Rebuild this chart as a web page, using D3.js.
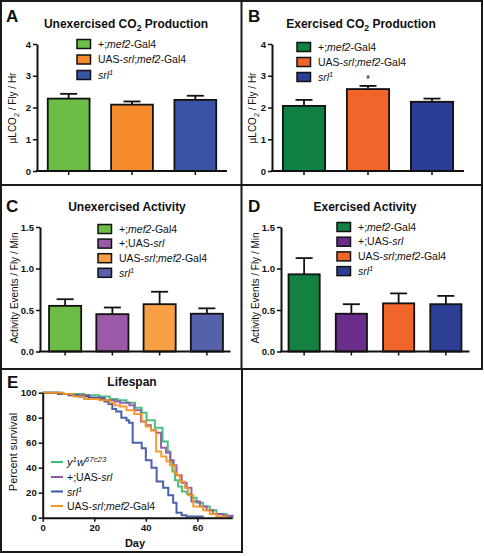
<!DOCTYPE html>
<html><head><meta charset="utf-8">
<script src="https://cdn.jsdelivr.net/npm/d3@7"></script>
<style>body{margin:0;background:#fff}svg{display:block;font-family:"Liberation Sans",Arial,Helvetica,sans-serif}</style>
</head><body><svg id="c" width="484" height="556"></svg>
<script>
// ---- data ----
const co2Genotypes = ["+;<i>mef2</i>-Gal4", "UAS-<i>srl</i>;<i>mef2</i>-Gal4", "<i>srl</i><sup>1</sup>"];
const unexCO2 = [2.28, 2.09, 2.24];
const unexCO2Err = [0.15, 0.10, 0.13];
const exCO2 = [2.05, 2.58, 2.18];
const exCO2Err = [0.19, 0.10, 0.10];
const co2Ticks = [0, 1, 2, 3, 4];

const actGenotypes = ["+;<i>mef2</i>-Gal4", "+;UAS-<i>srl</i>", "UAS-<i>srl</i>;<i>mef2</i>-Gal4", "<i>srl</i><sup>1</sup>"];
const unexAct = [0.55, 0.45, 0.57, 0.455];
const unexActErr = [0.08, 0.08, 0.15, 0.065];
const exAct = [0.93, 0.455, 0.58, 0.57];
const exActErr = [0.195, 0.115, 0.12, 0.10];
const actTicks = [0, 0.5, 1.0, 1.5];

const lifeSeries = ["<i>y</i><sup>1</sup><i>w</i><sup>67c23</sup>", "+;UAS-<i>srl</i>", "<i>srl</i><sup>1</sup>", "UAS-<i>srl</i>;<i>mef2</i>-Gal4"];
const survGreen = [[0,100],[8,99],[16,98],[22,97],[26,95],[29,94],[32.5,92],[35.8,88],[38.4,84],[40.3,78],[43.5,72],[46.5,61],[48.5,53],[49.5,45],[50.3,37],[51.3,30],[52.5,25],[54,21],[56,19],[57.7,16],[59.7,12],[62.2,9],[64.8,6],[67.4,3],[71.3,1],[73.5,1]];
const survPurple = [[0,100],[6,99],[12,98],[18,96],[24,94],[28,93],[30,92],[33.6,90],[35.5,86],[38.1,77],[40,74],[42,70],[43.9,68],[45.9,56],[47.8,52],[49.5,46],[50.8,42],[51.9,34],[53.9,28],[55.8,24],[57.7,13],[61,9],[63.6,6],[66.1,3],[70,1.5],[73.7,0]];
const survBlue = [[0,100],[6,99],[10,98],[14,97],[18,96],[22,95],[24,93],[25.5,91],[27,87],[28.5,85],[30.5,80],[32.5,78],[33.5,76],[34.9,60],[38.4,55.5],[40,46],[42.2,40],[44.2,29],[46.7,24],[48.7,18],[50.6,12],[51.9,4],[53.9,2],[55.8,1],[62,0]];
const survOrange = [[0,100],[8,99],[12,97],[16,95],[22,94],[26,92],[28,90],[30,89],[32.5,86],[35.5,83],[38.4,77],[40,73],[42,70],[44,53],[46,49],[48,45],[49.4,42],[51.2,36],[51.9,34],[53.2,29],[55.1,24],[56.4,18],[58.4,9],[62.2,6],[64.8,3],[67.4,1],[71.3,0]];
const lifeXTicks = [0, 20, 40, 60];
const lifeYTicks = [0, 20, 40, 60, 80, 100];

// ---- helpers ----
const svg = d3.select("#c");
svg.append("rect").attr("width",484).attr("height",556).attr("fill","#fff");

function rich(t, markup) {
  const re = /<(i|sup|sub)>(.*?)<\/\1>|([^<]+)/g;
  let m, shift = 0;
  while ((m = re.exec(markup))) {
    const tag = m[1], str = tag ? m[2] : m[3];
    const ts = t.append("tspan").text(str);
    let target = 0;
    if (tag === "i") ts.attr("font-style","italic");
    if (tag === "sup") { target = -4; ts.attr("font-size","0.72em").attr("font-style","italic"); }
    if (tag === "sub") { target = 3; ts.attr("font-size","0.72em"); }
    if (target !== shift) { ts.attr("dy", target - shift); shift = target; }
  }
  return t;
}

function text(x, y, markup, opts = {}) {
  const t = svg.append("text").attr("x", x).attr("y", y)
    .attr("font-size", opts.size || 10)
    .attr("font-weight", opts.weight || "normal")
    .attr("text-anchor", opts.anchor || "start")
    .attr("fill", "#111");
  if (opts.rotate) t.attr("transform", `rotate(-90)`).attr("x", -y).attr("y", x);
  return rich(t, markup);
}

function barPanel(p) {
  const y = d3.scaleLinear().domain([p.ticks[0], p.ticks[p.ticks.length-1]]).range(p.yRange);
  const x = d3.scaleBand().domain(d3.range(p.values.length)).range(p.xRange)
    .paddingInner(p.pad).paddingOuter(p.pad / 2);
  const g = svg.append("g");
  p.values.forEach((v, i) => {
    const cx = x(i) + x.bandwidth() / 2;
    g.append("line").attr("x1", cx).attr("x2", cx).attr("y1", y(v)).attr("y2", y(v + p.errs[i]))
      .attr("stroke", "#111").attr("stroke-width", 1.8);
    g.append("line").attr("x1", cx - 8.5).attr("x2", cx + 8.5).attr("y1", y(v + p.errs[i])).attr("y2", y(v + p.errs[i]))
      .attr("stroke", "#111").attr("stroke-width", 1.8);
  });
  g.selectAll("rect.bar").data(p.values).join("rect").attr("class","bar")
    .attr("x", (d, i) => x(i)).attr("width", x.bandwidth())
    .attr("y", d => y(d)).attr("height", d => y(0) - y(d))
    .attr("fill", (d, i) => p.colors[i]).attr("stroke", "#111").attr("stroke-width", 1.8);
  const ya = g.append("g").attr("transform", `translate(${p.axisX},0)`)
    .call(d3.axisLeft(y).tickValues(p.ticks).tickSize(4).tickSizeOuter(0).tickPadding(2).tickFormat(p.fmt));
  ya.select(".domain").attr("stroke", "#111").attr("stroke-width", 2);
  ya.selectAll(".tick line").attr("stroke", "#111").attr("stroke-width", 1.5);
  ya.selectAll(".tick text").attr("font-size", 9.5).attr("font-weight", "bold").attr("fill", "#111")
    .attr("font-family", '"Liberation Sans",Arial,sans-serif');
  const xa = g.append("g").attr("transform", `translate(0,${y(0)})`)
    .call(d3.axisBottom(x).tickSize(4).tickSizeOuter(0).tickFormat(""));
  xa.select(".domain").remove();
  xa.selectAll(".tick line").attr("stroke", "#111").attr("stroke-width", 1.5);
  g.append("line").attr("x1", p.axisX - 1).attr("x2", p.xRange[1]).attr("y1", y(0)).attr("y2", y(0))
    .attr("stroke", "#111").attr("stroke-width", 2);
  p.labels.forEach((lab, i) => {
    const cy = p.legY + i * p.legStep;
    svg.append("rect").attr("x", p.legX).attr("y", cy - 4.5).attr("width", 13.5).attr("height", 9)
      .attr("fill", p.colors[i]).attr("stroke", "#111").attr("stroke-width", 1.5);
    text(p.legX + 21, cy + 3.7, lab, { size: 10.5 });
  });
  return { x, y };
}

// ---- frames ----
const frame = svg.append("g").attr("stroke", "#1a1a1a").attr("stroke-width", 2).attr("fill", "none");
frame.append("path").attr("d", "M1,369 L1,1 L482,1 L482,369 L1,369 M241.5,1 L241.5,369 M1,185 L482,185");
frame.append("path").attr("d", "M1,369 L1,552 L242,552 L242,369");

// ---- panel A ----
text(6, 22, "A", { size: 17, weight: "bold" });
text(126, 28, "Unexercised CO<sub>2</sub> Production", { size: 12, weight: "bold", anchor: "middle" });
text(16, 108, "µLCO<sub>2</sub> / Fly / Hr", { size: 10, anchor: "middle", rotate: true });
barPanel({ values: unexCO2, errs: unexCO2Err, ticks: co2Ticks, fmt: d3.format("d"),
  yRange: [171, 44], xRange: [37, 227], axisX: 37, pad: 0.34,
  colors: ["#6cbd45", "#f68b2c", "#3954a4"], labels: co2Genotypes, legX: 77, legY: 44, legStep: 15.5 });

// ---- panel B ----
text(248, 22, "B", { size: 17, weight: "bold" });
text(361, 28, "Exercised CO<sub>2</sub> Production", { size: 12, weight: "bold", anchor: "middle" });
text(256, 108, "µLCO<sub>2</sub> / Fly / Hr", { size: 10, anchor: "middle", rotate: true });
const pb = barPanel({ values: exCO2, errs: exCO2Err, ticks: co2Ticks, fmt: d3.format("d"),
  yRange: [171, 44], xRange: [272, 464], axisX: 272, pad: 0.34,
  colors: ["#108142", "#f0652a", "#2a3e96"], labels: co2Genotypes, legX: 297, legY: 47, legStep: 15 });
text(pb.x(1) + pb.x.bandwidth() / 2, 83, "*", { size: 10, anchor: "middle" });

// ---- panel C ----
text(6, 212, "C", { size: 17, weight: "bold" });
text(127, 211, "Unexercised Activity", { size: 12, weight: "bold", anchor: "middle" });
text(18, 288, "Activity Events / Fly / Min", { size: 10, anchor: "middle", rotate: true });
barPanel({ values: unexAct, errs: unexActErr, ticks: actTicks, fmt: d3.format(".1f"),
  yRange: [351.5, 227], xRange: [41.5, 230.5], axisX: 40, pad: 0.32,
  colors: ["#6cbd45", "#9b5aa7", "#f8a045", "#5561ab"], labels: actGenotypes, legX: 98, legY: 229, legStep: 14.6 });

// ---- panel D ----
text(248, 212, "D", { size: 17, weight: "bold" });
text(365, 211, "Exercised Activity", { size: 12, weight: "bold", anchor: "middle" });
text(259, 288, "Activity Events / Fly / Min", { size: 10, anchor: "middle", rotate: true });
barPanel({ values: exAct, errs: exActErr, ticks: actTicks, fmt: d3.format(".1f"),
  yRange: [351.5, 227], xRange: [280.5, 469.5], axisX: 281, pad: 0.34,
  colors: ["#128141", "#6c2c8c", "#f0652a", "#2c3f95"], labels: actGenotypes, legX: 337, legY: 227, legStep: 14.7 });

// ---- panel E ----
text(7, 388, "E", { size: 17, weight: "bold" });
text(132, 386, "Lifespan", { size: 12, weight: "bold", anchor: "middle" });
text(17, 452, "Percent survival", { size: 11, anchor: "middle", rotate: true });
text(135, 547, "Day", { size: 11, weight: "bold", anchor: "middle" });
const lx = d3.scaleLinear().domain([0, 73.5]).range([42.7, 232.2]);
const ly = d3.scaleLinear().domain([0, 100]).range([517.7, 392.7]);
const lifeColors = ["#3db878", "#8f56a3", "#3b55a4", "#f7941e"];
const lifeData = [survGreen, survPurple, survBlue, survOrange];
const line = d3.line().x(d => lx(d[0])).y(d => ly(d[1])).curve(d3.curveStepAfter);
const eg = svg.append("g");
lifeData.forEach((s, i) => {
  eg.append("path").attr("d", line(s)).attr("fill", "none").attr("stroke", lifeColors[i])
    .attr("stroke-width", 2).attr("stroke-opacity", 0.92);
});
const eya = eg.append("g").attr("transform", `translate(${lx(0)},0)`)
  .call(d3.axisLeft(ly).tickValues(lifeYTicks).tickSize(4).tickSizeOuter(0).tickPadding(2));
const exa = eg.append("g").attr("transform", `translate(0,${ly(0)})`)
  .call(d3.axisBottom(lx).tickValues(lifeXTicks).tickSize(4).tickSizeOuter(0).tickPadding(3));
[eya, exa].forEach(a => {
  a.select(".domain").attr("stroke", "#111").attr("stroke-width", 2);
  a.selectAll(".tick line").attr("stroke", "#111").attr("stroke-width", 1.5);
  a.selectAll(".tick text").attr("font-size", 9.5).attr("font-weight", "bold").attr("fill", "#111")
    .attr("font-family", '"Liberation Sans",Arial,sans-serif');
});
const legRows = [462, 477, 491.5, 506];
lifeSeries.forEach((lab, i) => {
  svg.append("line").attr("x1", 51).attr("x2", 63).attr("y1", legRows[i]).attr("y2", legRows[i])
    .attr("stroke", lifeColors[i]).attr("stroke-width", 2);
  text(67, legRows[i] + 4, lab, { size: i === 0 ? 11 : 10.5 });
});
</script></body></html>
